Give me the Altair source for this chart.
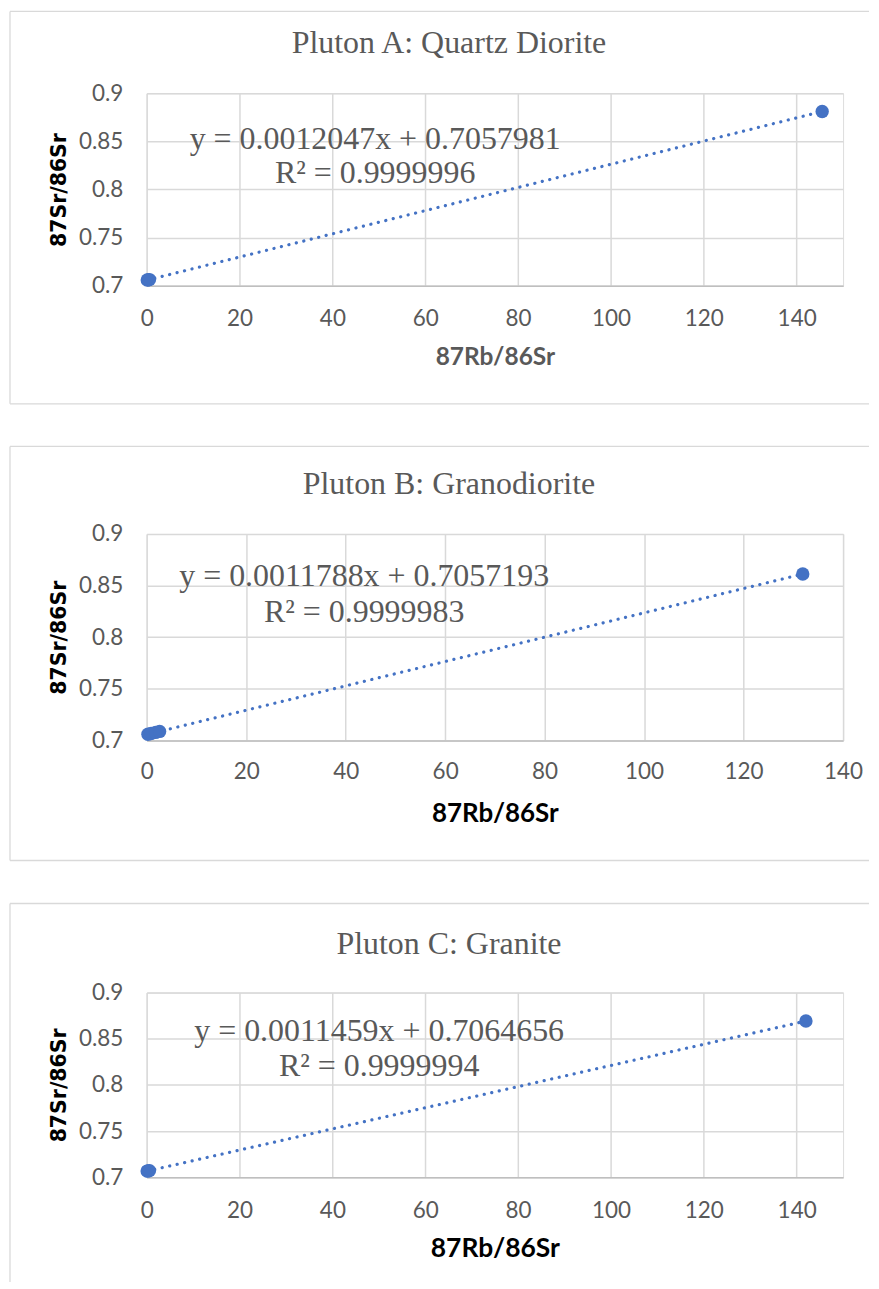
import altair as alt
import pandas as pd

# ---- data ----
titles = ["Pluton A: Quartz Diorite", "Pluton B: Granodiorite", "Pluton C: Granite"]
eq_lines = ["y = 0.0012047x + 0.7057981", "y = 0.0011788x + 0.7057193", "y = 0.0011459x + 0.7064656"]
r2_lines = ["R² = 0.9999996", "R² = 0.9999983", "R² = 0.9999994"]

a_rb = [0.12, 0.35, 0.6, 145.5]
a_sr = [0.7060, 0.7062, 0.7065, 0.8811]
b_rb = [0.25, 0.9, 1.8, 2.6, 131.9]
b_sr = [0.7060, 0.7068, 0.7078, 0.7088, 0.8612]
c_rb = [0.1, 0.3, 0.6, 142.0]
c_sr = [0.7066, 0.7068, 0.7071, 0.8692]

x_max = [150, 140, 150]
x_ticks = [0, 20, 40, 60, 80, 100, 120, 140]
y_domain = [0.7, 0.9]
y_ticks = [0.7, 0.75, 0.8, 0.85, 0.9]
x_title = "87Rb/86Sr"
y_title = "87Sr/86Sr"

# ---- layout / style (not data) ----
W = 698
heights = [193, 207, 185]
x_label_pad = [21.5, 20.5, 22.5]
x_title_y = [78.4, 81.6, 80]
x_title_size = [24.5, 26, 26.5]
x_title_color = ["#595959", "#000000", "#000000"]
title_y = [-40, -40, -39]
eq_x = [229, 218, 233]
eq_y1 = [56, 52, 48.4]
eq_y2 = [90, 88.6, 83.4]
box_left = -137.0
box_right = 724
box_top = [-82.05, -87.7, -89.3]
box_bottom = [311.3, 327.3, 290]
BLUE = "#4472C4"
GRID = "#d9d9d9"
GREY = "#595959"


def panel(i, xs, ys):
    H = heights[i]
    df = pd.DataFrame({"rb": xs, "sr": ys})
    x = alt.X(
        "rb:Q",
        scale=alt.Scale(domain=[0, x_max[i]], nice=False, zero=False),
        axis=alt.Axis(
            values=x_ticks, title=x_title, grid=True, gridColor=GRID, gridWidth=1.5,
            ticks=False, tickSize=0, domain=True, domainColor="#bfbfbf", domainWidth=1.5,
            labelFont="Lato", labelFontSize=22.5, labelColor=GREY, labelPadding=x_label_pad[i],
            labelFlush=False, labelOverlap=False,
            titleFont="Lato", titleFontSize=x_title_size[i], titleFontWeight="bold",
            titleColor=x_title_color[i], titleX=W / 2, titleY=x_title_y[i],
            titleAlign="center", titleBaseline="alphabetic",
        ),
    )
    y = alt.Y(
        "sr:Q",
        scale=alt.Scale(domain=y_domain, nice=False, zero=False),
        axis=alt.Axis(
            values=y_ticks, format="~g", title=y_title, grid=True, gridColor=GRID, gridWidth=1.5,
            ticks=False, tickSize=0, domain=False,
            labelFont="Lato", labelFontSize=22.5, labelColor=GREY, labelPadding=24,
            labelFlush=False, labelOverlap=False,
            titleFont="DejaVu Sans", titleFontSize=20.5, titleFontWeight="bold", titleColor="#000000",
            titleAngle=270, titleX=-87.7, titleY=H / 2, titleAlign="center", titleBaseline="middle",
        ),
    )
    base = alt.Chart(df)
    trend = base.transform_regression("rb", "sr").mark_line(
        color=BLUE, strokeWidth=3.2, strokeDash=[0.1, 7.6], strokeCap="round"
    ).encode(x=x, y=y)
    pts = base.mark_circle(size=180, color=BLUE, opacity=1).encode(x=x, y=y)

    tdf = pd.DataFrame({"t": [titles[i]], "e": [eq_lines[i]], "r": [r2_lines[i]]})
    tbase = alt.Chart(tdf)
    ttl = tbase.mark_text(font="Liberation Serif", fontSize=32, color=GREY,
                          align="center", baseline="alphabetic").encode(
        x=alt.value(303), y=alt.value(title_y[i]), text="t:N")
    eq1 = tbase.mark_text(font="Liberation Serif", fontSize=32, color=GREY,
                          align="center", baseline="alphabetic").encode(
        x=alt.value(eq_x[i]), y=alt.value(eq_y1[i]), text="e:N")
    eq2 = tbase.mark_text(font="Liberation Serif", fontSize=32, color=GREY,
                          align="center", baseline="alphabetic").encode(
        x=alt.value(eq_x[i]), y=alt.value(eq_y2[i]), text="r:N")

    bdf = pd.DataFrame({"k": [0]})
    bb = alt.Chart(bdf)
    left = bb.mark_rule(color=GRID, strokeWidth=1.3).encode(
        x=alt.value(box_left), y=alt.value(box_top[i]), y2=alt.value(box_bottom[i]))
    top = bb.mark_rule(color=GRID, strokeWidth=1.3).encode(
        x=alt.value(box_left), x2=alt.value(box_right), y=alt.value(box_top[i]))
    layers = [left, top]
    if i < 2:
        bottom = bb.mark_rule(color=GRID, strokeWidth=1.3).encode(
            x=alt.value(box_left), x2=alt.value(box_right), y=alt.value(box_bottom[i]))
        layers.append(bottom)
    return alt.layer(*layers, trend, pts, ttl, eq1, eq2).properties(width=W, height=H)


chart = alt.vconcat(
    panel(0, a_rb, a_sr),
    panel(1, b_rb, b_sr),
    panel(2, c_rb, c_sr),
    spacing=39.7,
    padding=0,
).configure_view(stroke=None).configure(background="white")

chart.save("out.html", embed_options={"renderer": "svg", "actions": False})
